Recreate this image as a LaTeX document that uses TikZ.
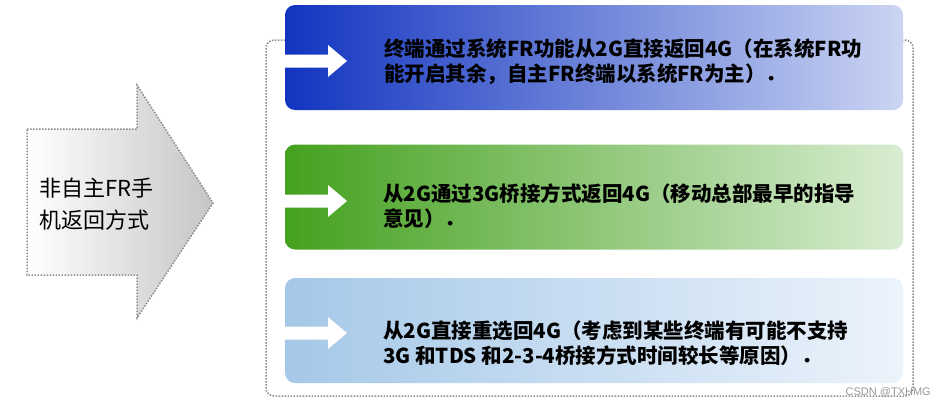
\documentclass[tikz,border=0pt]{standalone}
\usepackage{fontspec}
\newfontfamily\cjk{Noto Sans CJK SC}
\newfontfamily\wmfont{Liberation Sans}
\definecolor{bluel}{HTML}{1234C0}
\definecolor{bluer}{HTML}{CBD5F3}
\definecolor{greenl}{HTML}{45A11F}
\definecolor{greenr}{HTML}{D9EDD2}
\definecolor{skyl}{HTML}{A5C8E8}
\definecolor{skyr}{HTML}{ECF3FB}
\definecolor{dotgray}{HTML}{8C8C8C}
\begin{document}
\begin{tikzpicture}[x=1pt,y=-1pt,
  dotline/.style={draw=dotgray, line width=1.5pt, dash pattern=on 1.5pt off 1.5pt},
  bandbox/.style={rounded corners=10pt, minimum width=618pt, minimum height=105pt, inner sep=0pt, draw=none},
  boxtext/.style={font=\cjk\bfseries\fontsize{20.5}{25}\selectfont, align=left, anchor=west, inner sep=0pt, text=black},
  lefttext/.style={font=\cjk\fontsize{22}{32}\selectfont, align=left, anchor=west, inner sep=0pt, text=black}
]
\useasboundingbox (0,0) rectangle (944,407);
\fill[white] (0,0) rectangle (944,407);

% big left arrow
\shadedraw[left color=white, right color=gray!45, dotline]
  (27,129) -- (137,129) -- (137,85) -- (213,203) -- (137,318) -- (137,275) -- (27,275) -- cycle;
\node[lefttext] (lt) at (39,204) {非自主FR手\\机返回方式};

% dotted frame
\draw[dotline, rounded corners=8pt] (266,40) rectangle (913,396);

% band boxes
\node[bandbox, left color=bluel, right color=bluer] (b1) at (594,57.5) {};
\node[bandbox, left color=greenl, right color=greenr] (b2) at (594,197) {};
\node[bandbox, left color=skyl, right color=skyr] (b3) at (594,330.5) {};

% white arrows
\foreach \cy in {61,201,333}{
  \fill[white] (285,\cy-6.5) -- (328,\cy-6.5) -- (328,\cy-16) -- (347,\cy)
    -- (328,\cy+16) -- (328,\cy+6.5) -- (285,\cy+6.5) -- cycle;
}

% texts
\node[boxtext] (t1) at (384,61.5) {终端通过系统FR功能从2G直接返回4G（在系统FR功\\能开启其余，自主FR终端以系统FR为主）．};
\node[boxtext] (t2) at (383,206) {从2G通过3G桥接方式返回4G（移动总部最早的指导\\意见）．};
\node[boxtext] (t3) at (383,343) {从2G直接重选回4G（考虑到某些终端有可能不支持\\3G 和TDS 和2-3-4桥接方式时间较长等原因）．};

% watermark
\node[font=\wmfont\fontsize{11}{13}\selectfont, text=gray!80, inner sep=0pt, anchor=east] (wm) at (931,392) {CSDN @TXHMG};
\end{tikzpicture}
\end{document}
